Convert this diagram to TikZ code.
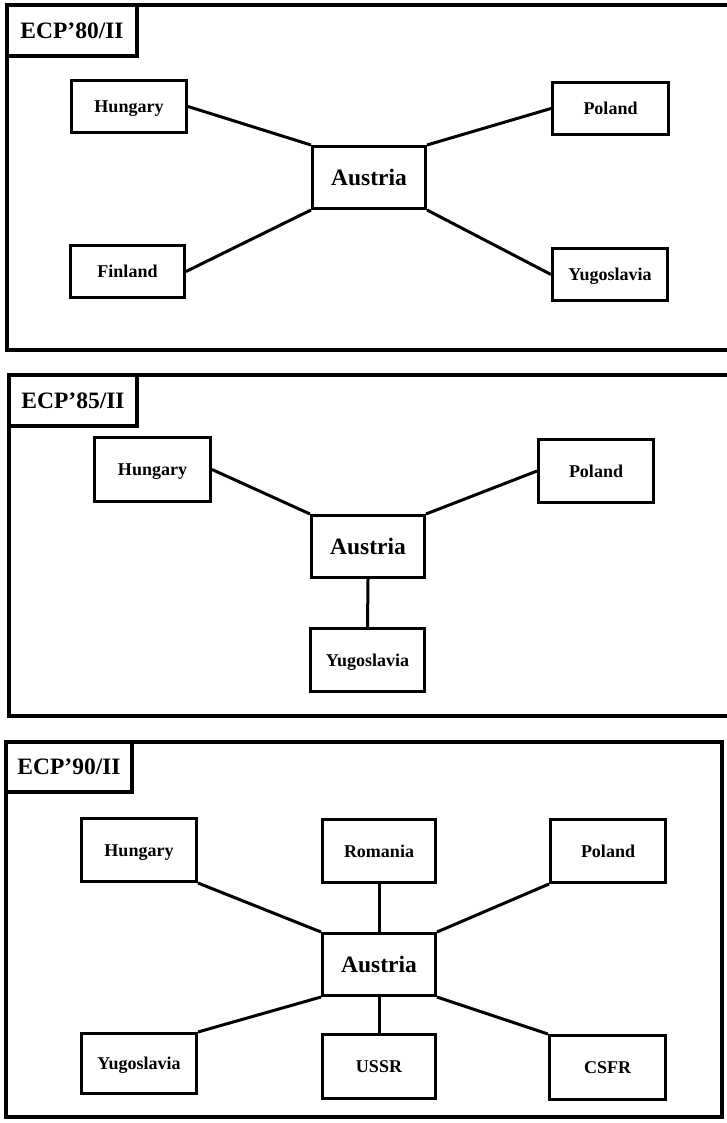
\documentclass[tikz,border=0pt]{standalone}
\usepackage{fontspec}
\setmainfont{Liberation Serif}
\begin{document}
\begin{tikzpicture}[x=1pt,y=-1pt,
  frame/.style={draw, line width=4pt},
  titlebox/.style={draw, line width=3.8pt, inner sep=0pt, text height=15.5pt, text depth=0pt, font=\fontsize{23.5}{25}\selectfont\bfseries},
  box/.style={draw, line width=3pt, inner sep=0pt, text height=12pt, text depth=0pt, font=\fontsize{18}{20}\selectfont\bfseries},
  hub/.style={draw, line width=3pt, inner sep=0pt, text height=15.5pt, text depth=0pt, font=\fontsize{23.5}{25}\selectfont\bfseries},
  link/.style={line width=3pt}]
\useasboundingbox (0,0) rectangle (726,1123);

% ---------- Panel 1 ----------
\draw[frame] (740,5) -- (7,5) -- (7,350) -- (740,350);
\node[titlebox, minimum width=130pt, minimum height=51pt] (t1) at (72,30.5) {ECP'80/II};
\node[hub, minimum width=113pt, minimum height=62pt] (a1) at (369,177.5) {Austria};
\node[box, minimum width=115pt, minimum height=52pt] (h1) at (129,106.5) {Hungary};
\node[box, minimum width=114pt, minimum height=52pt] (f1) at (127.5,271.5) {Finland};
\node[box, minimum width=116pt, minimum height=52pt] (p1) at (610.5,108.5) {Poland};
\node[box, minimum width=115pt, minimum height=52pt] (y1) at (610,274.5) {Yugoslavia};
\draw[link] (h1.east) -- (a1.north west);
\draw[link] (f1.east) -- (a1.south west);
\draw[link] (p1.west) -- (a1.north east);
\draw[link] (y1.west) -- (a1.south east);

% ---------- Panel 2 ----------
\draw[frame] (740,375) -- (9,375) -- (9,716) -- (740,716);
\node[titlebox, minimum width=128pt, minimum height=51pt] (t2) at (73,400.5) {ECP'85/II};
\node[hub, minimum width=113pt, minimum height=62pt] (a2) at (368,546.5) {Austria};
\node[box, minimum width=116pt, minimum height=64pt] (h2) at (152.5,469.5) {Hungary};
\node[box, minimum width=115pt, minimum height=63pt] (p2) at (596,471) {Poland};
\node[box, minimum width=114pt, minimum height=63pt] (y2) at (367.5,660) {Yugoslavia};
\draw[link] (h2.east) -- (a2.north west);
\draw[link] (p2.west) -- (a2.north east);
\draw[link] (a2.south) -- (y2.north);

% ---------- Panel 3 ----------
\draw[frame] (6,742) rectangle (722,1117);
\node[titlebox, minimum width=126pt, minimum height=50pt] (t3) at (69,767) {ECP'90/II};
\node[hub, minimum width=113pt, minimum height=62pt] (a3) at (379,964.5) {Austria};
\node[box, minimum width=115pt, minimum height=63pt] (h3) at (139,850) {Hungary};
\node[box, minimum width=113pt, minimum height=63pt] (r3) at (379,851) {Romania};
\node[box, minimum width=115pt, minimum height=63pt] (p3) at (608,851) {Poland};
\node[box, minimum width=115pt, minimum height=60pt] (y3) at (139,1063.5) {Yugoslavia};
\node[box, minimum width=113pt, minimum height=64pt] (u3) at (379,1066.5) {USSR};
\node[box, minimum width=116pt, minimum height=64pt] (c3) at (607.5,1067.5) {CSFR};
\draw[link] (h3.south east) -- (a3.north west);
\draw[link] (y3.north east) -- (a3.south west);
\draw[link] (p3.south west) -- (a3.north east);
\draw[link] (c3.north west) -- (a3.south east);
\draw[link] (r3.south) -- (a3.north);
\draw[link] (a3.south) -- (u3.north);
\end{tikzpicture}
\end{document}
